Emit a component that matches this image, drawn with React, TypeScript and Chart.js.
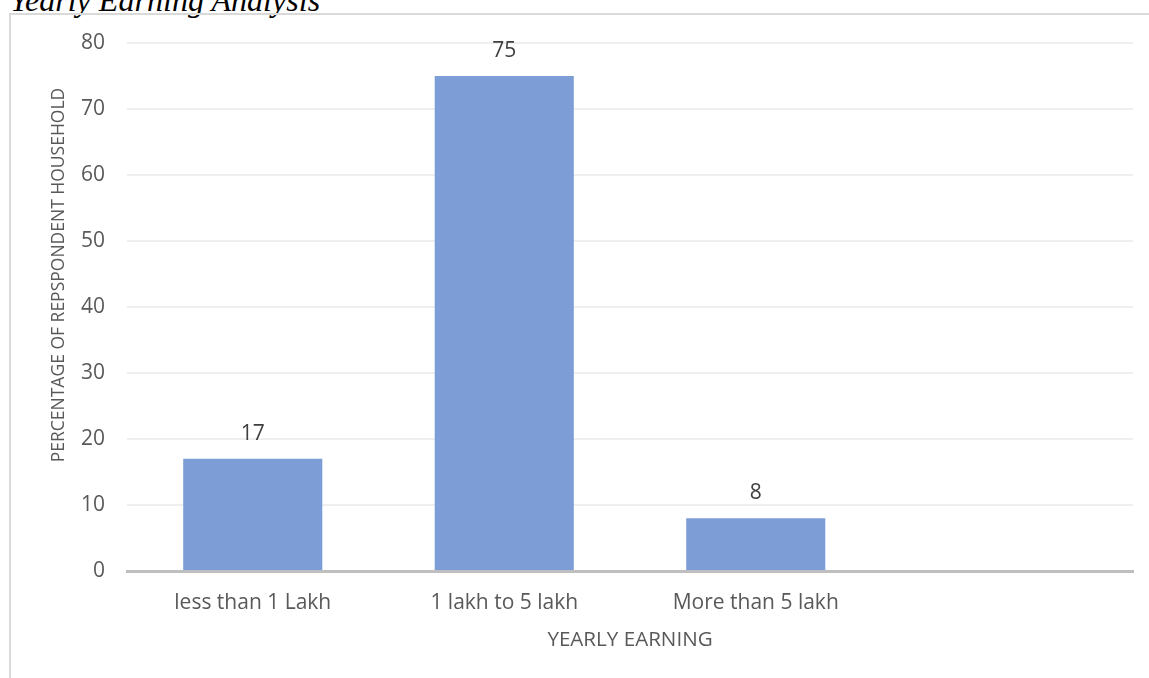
import React, { useEffect, useRef } from "react";
import { Chart, registerables } from "chart.js";

Chart.register(...registerables);

// Yearly earning bands and share of respondent households (%)
const categories: string[] = ["less than 1 Lakh", "1 lakh to 5 lakh", "More than 5 lakh", ""];
const householdShare: (number | null)[] = [17, 75, 8, null];

// Value axis range
const yMin = 0;
const yMax = 80;
const yStep = 10;

const chartTitle = "Yearly Earning Analysis";
const xAxisTitle = "YEARLY EARNING";
const yAxisTitle = "PERCENTAGE OF REPSPONDENT HOUSEHOLD";

const FONT = "'Open Sans', 'Noto Sans', sans-serif";

// Writes each bar's value above it
const valueLabels = {
  id: "valueLabels",
  afterDatasetsDraw(chart: any) {
    const { ctx } = chart;
    const meta = chart.getDatasetMeta(0);
    const data = chart.data.datasets[0].data;
    ctx.save();
    ctx.font = `21px ${FONT}`;
    ctx.fillStyle = "#404040";
    ctx.textAlign = "center";
    ctx.textBaseline = "middle";
    meta.data.forEach((bar: any, i: number) => {
      const v = data[i];
      if (v === null || v === undefined) return;
      ctx.fillText(String(v), bar.x, bar.y - 25);
    });
    ctx.restore();
  },
};

// Rotated value-axis title, set a little above the plot's vertical centre
const sideTitle = {
  id: "sideTitle",
  afterDraw(chart: any) {
    const { ctx } = chart;
    ctx.save();
    ctx.translate(48, 260);
    ctx.rotate(-Math.PI / 2);
    ctx.font = `17.5px ${FONT}`;
    ctx.fillStyle = "#595959";
    ctx.textAlign = "center";
    ctx.textBaseline = "middle";
    ctx.fillText(yAxisTitle, 0, 0);
    ctx.restore();
  },
};

function EarningChart() {
  const canvasRef = useRef<HTMLCanvasElement | null>(null);

  useEffect(() => {
    if (!canvasRef.current) return;
    const chart = new Chart(canvasRef.current, {
      type: "bar",
      data: {
        labels: categories,
        datasets: [
          {
            data: householdShare as any,
            backgroundColor: "#7c9dd6",
            borderWidth: 0,
            barPercentage: 0.553,
            categoryPercentage: 1,
          },
        ],
      },
      options: {
        responsive: false,
        animation: false,
        events: [],
        layout: { padding: { top: 28, right: 16, bottom: 0, left: 0 } },
        plugins: {
          legend: { display: false },
          tooltip: { enabled: false },
          title: { display: false },
        },
        scales: {
          x: {
            afterFit: (scale: any) => {
              scale.height = 107;
            },
            grid: { display: false, drawTicks: false },
            border: { display: true, color: "#bfbfbf", width: 3 },
            ticks: {
              color: "#595959",
              font: { family: FONT, size: 21 },
              padding: 19,
              maxRotation: 0,
              autoSkip: false,
            },
            title: {
              display: true,
              text: xAxisTitle,
              color: "#595959",
              font: { family: FONT, size: 20.6 },
              padding: { top: 0, bottom: 26 },
            },
          },
          y: {
            min: yMin,
            max: yMax,
            afterFit: (scale: any) => {
              scale.width = 116;
              // the plot's top edge comes from layout padding alone
              scale.paddingTop = 0;
              scale.paddingBottom = 0;
            },
            grid: { color: "#efefef", lineWidth: 2, drawTicks: false },
            border: { display: false },
            ticks: {
              stepSize: yStep,
              color: "#595959",
              font: { family: FONT, size: 21 },
              padding: 22,
            },
          },
        },
      },
      plugins: [valueLabels, sideTitle],
    });
    return () => chart.destroy();
  }, []);

  return (
    <canvas
      ref={canvasRef}
      width={1138}
      height={663}
      style={{ display: "block", width: 1138, height: 663 }}
    />
  );
}

export default function App() {
  return (
    <div
      style={{
        position: "fixed",
        left: 0,
        top: 0,
        width: 1149,
        height: 678,
        overflow: "hidden",
        background: "#ffffff",
      }}
    >
      <div
        style={{
          position: "absolute",
          left: 10,
          top: -16,
          fontFamily: "'Liberation Serif', 'Times New Roman', serif",
          fontStyle: "italic",
          fontSize: 32.1,
          lineHeight: "32px",
          color: "#000000",
          whiteSpace: "nowrap",
        }}
      >
        {chartTitle}
      </div>
      <div
        style={{
          position: "absolute",
          left: 9,
          top: 13,
          width: 1140,
          height: 665,
          borderLeft: "2px solid #d9d9d9",
          borderTop: "2px solid #d9d9d9",
          boxSizing: "border-box",
          background: "transparent",
        }}
      >
        <EarningChart />
      </div>
    </div>
  );
}
